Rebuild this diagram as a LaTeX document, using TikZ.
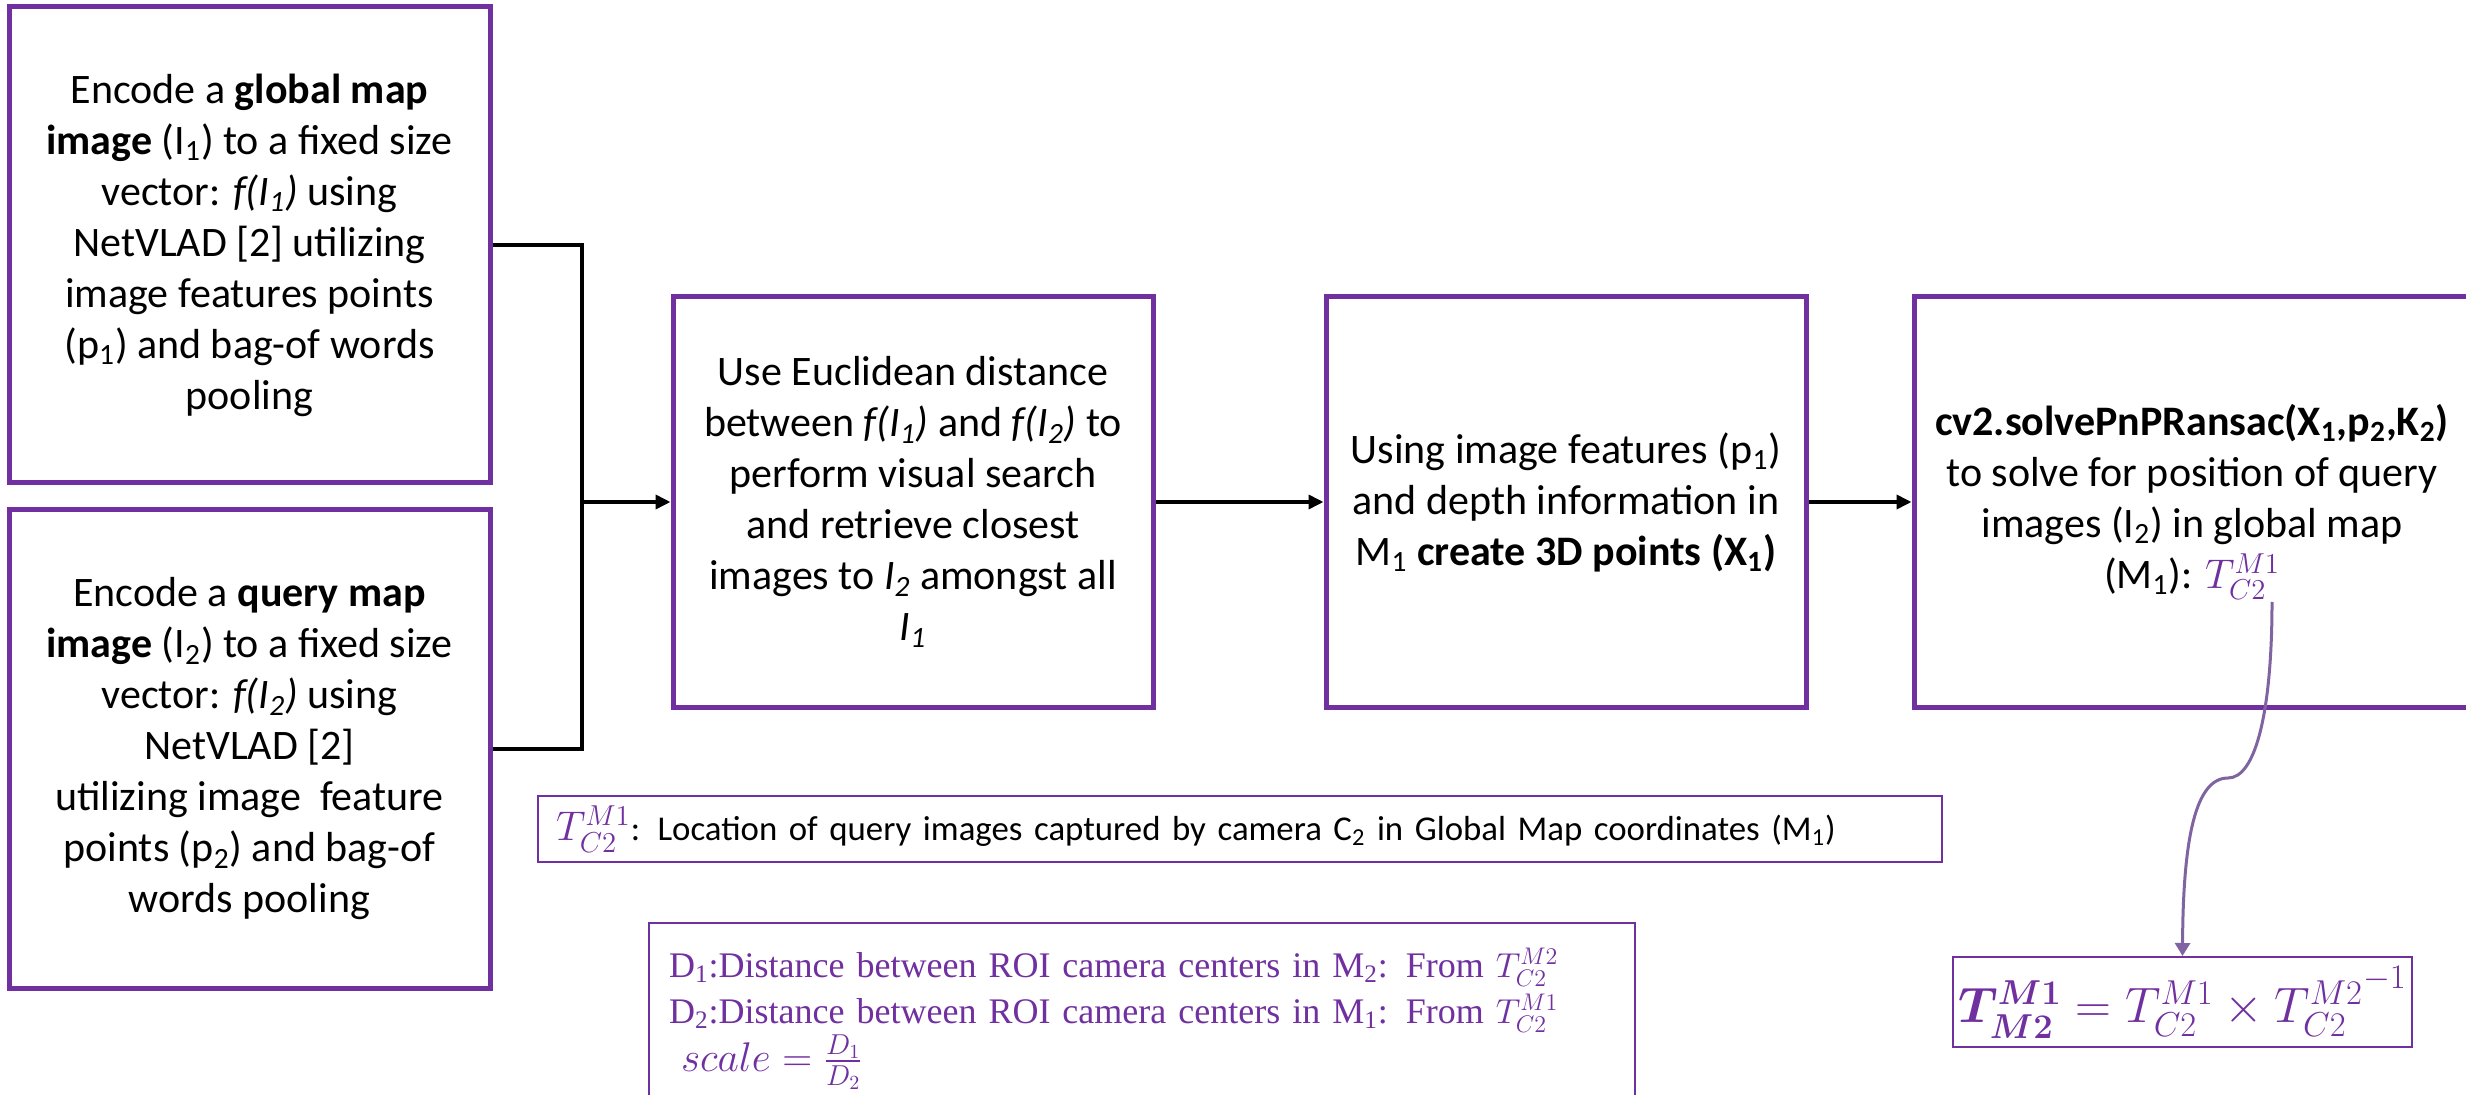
\documentclass[tikz,border=0pt]{standalone}
\usepackage{amsmath}
\usepackage{fontspec}
\setmainfont{Carlito}
\newfontfamily\dfont{Liberation Serif}
\usetikzlibrary{arrows.meta}
\definecolor{mpurple}{HTML}{7030A0}
\definecolor{lpurple}{HTML}{8064A2}
\begin{document}
\begin{tikzpicture}[x=0.5pt,y=-0.5pt,
  bigbox/.style={draw=mpurple, line width=2.5pt, align=center, inner sep=0pt,
    font=\fontsize{21}{25.5}\selectfont},
  thinbox/.style={draw=mpurple, line width=1pt},
  connline/.style={line width=1.8pt},
  conn/.style={line width=1.8pt, -{Triangle[length=7.5pt,width=7pt]}},
]
\useasboundingbox (0,0) rectangle (2466,1095);
\clip (0,0) rectangle (2466,1095);

\node[bigbox, minimum width=240.5pt, minimum height=238pt] (b1) at (249.5,245) {%
Encode a \textbf{global map}\\
\textbf{image} (I\textsubscript{1}) to a fixed size\\
vector: \textit{f(I\textsubscript{1})} using\\
NetVLAD [2] utilizing\\
image features points\\
(p\textsubscript{1}) and bag-of words\\
pooling};

\node[bigbox, minimum width=240.5pt, minimum height=239pt] (b2) at (249.5,749) {%
Encode a \textbf{query map}\\
\textbf{image} (I\textsubscript{2}) to a fixed size\\
vector: \textit{f(I\textsubscript{2})} using\\
NetVLAD [2]\\
utilizing image\ \ feature\\
points (p\textsubscript{2}) and bag-of\\
words pooling};

\node[bigbox, minimum width=240pt, minimum height=205pt] (b3) at (913,502) {%
Use Euclidean distance\\
between \textit{f(I\textsubscript{1})} and \textit{f(I\textsubscript{2})} to\\
perform visual search\\
and retrieve closest\\
images to \textit{I\textsubscript{2}} amongst all\\
\textit{I\textsubscript{1}}};

\node[bigbox, minimum width=240pt, minimum height=205pt] (b4) at (1566,502) {%
Using image features (p\textsubscript{1})\\
and depth information in\\
M\textsubscript{1} \textbf{create 3D points (X\textsubscript{1})}};

\node[bigbox, minimum width=278pt, minimum height=205pt] (b5) at (2192,502) {%
\textbf{cv2.solvePnPRansac(X\textsubscript{1},p\textsubscript{2},K\textsubscript{2})}\\
to solve for position of query\\
images (I\textsubscript{2}) in global map\\
(M\textsubscript{1}): \textcolor{mpurple}{$T^{M1}_{C2}$}};

\node[thinbox, anchor=west, minimum height=33pt, inner xsep=9pt, inner ysep=0pt,
  text width=684pt, align=left, font=\fontsize{17.4}{21}\selectfont] (tb) at (537,829)
  {\textcolor{mpurple}{\fontsize{19.5}{21}\selectfont$T^{M1}_{C2}$}: Location of query images captured by camera C\textsubscript{2} in Global Map coordinates (M\textsubscript{1})};

\node[thinbox, anchor=north west, minimum height=96pt, inner xsep=10pt, inner ysep=0pt,
  text width=473pt, align=left, text=mpurple,
  font=\dfont\fontsize{18}{23}\selectfont] (db) at (648,922)
  {D\textsubscript{1}:Distance between ROI camera centers in M\textsubscript{2}: From $T^{M2}_{C2}$\\
   D\textsubscript{2}:Distance between ROI camera centers in M\textsubscript{1}: From $T^{M1}_{C2}$\\
   {\fontsize{20}{24}\selectfont\ $scale=\frac{D_1}{D_2}$}};

\node[thinbox, minimum width=229.5pt, minimum height=45pt, inner sep=0pt, text=mpurple,
  font=\fontsize{24}{28}\selectfont] (fb) at (2182.5,1002)
  {$\boldsymbol{T^{M1}_{M2}} = T^{M1}_{C2}\times T^{M2}_{C2}{}^{\raisebox{0.35em}{$\scriptstyle -1$}}$};

\coordinate (J) at (582,502);
\coordinate (cs) at (2272,602);

\draw[connline] (b1.east) -| (J);
\draw[connline] (b2.east) -| (J);
\draw[conn] (J) -- (b3.west);
\draw[conn] (b3.east) -- (b4.west);
\draw[conn] (b4.east) -- (b5.west);

\draw[lpurple, line width=1.5pt, -{Triangle[length=6.5pt,width=7.5pt]}]
  (cs) .. controls (2272,710) and (2256,778) .. (2228,778)
       .. controls (2195,778) and (2183,840) .. (fb.north);
\end{tikzpicture}
\end{document}
